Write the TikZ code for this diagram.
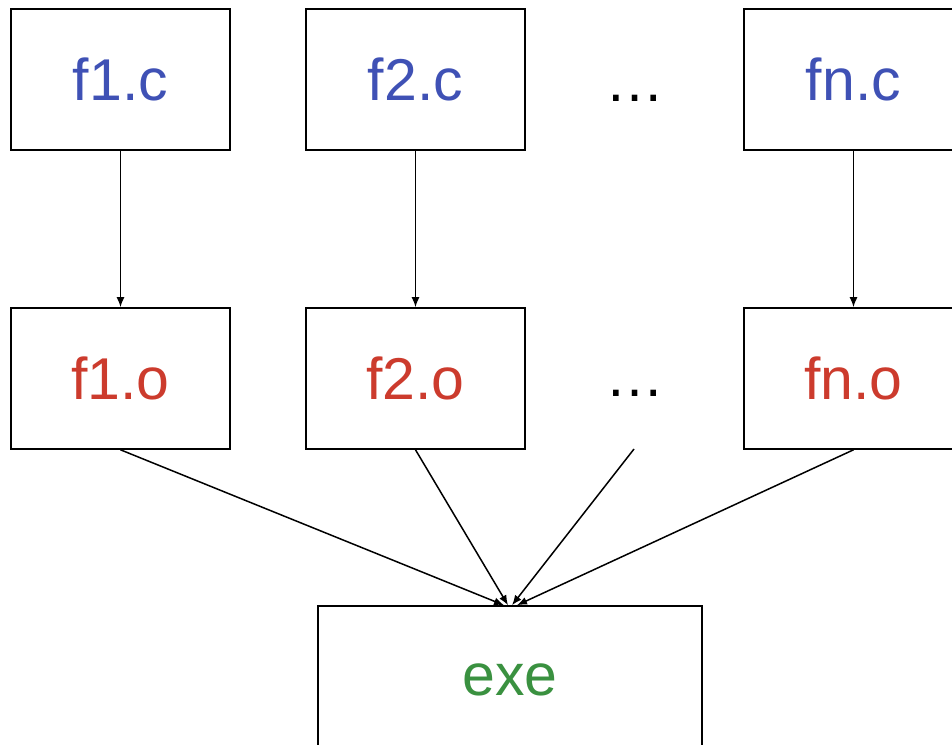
\documentclass[tikz,border=0pt]{standalone}
\usepackage{fontspec}
\setmainfont{Liberation Sans}
\usetikzlibrary{arrows.meta,calc}
\definecolor{srcblue}{RGB}{63,81,181}
\definecolor{objred}{RGB}{204,59,45}
\definecolor{exegreen}{RGB}{58,145,64}
\tikzset{
  bigtext/.style={font=\fontsize{59}{70}\selectfont},
  file/.style={draw, line width=1.6pt, minimum width=219pt, minimum height=141pt,
               inner sep=0pt, bigtext},
  csrc/.style={file, text=srcblue},
  obj/.style={file, text=objred},
  link/.style={line width=1.5pt, -{Latex[length=10pt,width=8pt]}},
  dots/.style={bigtext, text=black}
}
\begin{document}
\begin{tikzpicture}[x=1pt,y=-1pt]
  \useasboundingbox (0,0) rectangle (952,744);
  \begin{scope}
    \clip (0,0) rectangle (952,744);
    % source files
    \node[csrc] (c1) at (120.5,79.5) {f1.c};
    \node[csrc] (c2) at (415.5,79.5) {f2.c};
    \node[csrc] (cn) at (853.5,79.5) {fn.c};
    \node[dots] (dc) at (635,98) {…};
    % object files
    \node[obj] (o1) at (120.5,378.5) {f1.o};
    \node[obj] (o2) at (415.5,378.5) {f2.o};
    \node[obj] (on) at (853.5,378.5) {fn.o};
    \node[dots] (do) at (635,393) {…};
    \coordinate (dbot) at (634,449);
    % linked executable
    \node[file, minimum width=384pt, minimum height=160pt] (exe) at (510,686) {};
    \node[text=exegreen, bigtext] (exelabel) at (510,680) {exe};
    % compile step
    \draw[link] (c1.south) -- (o1.north);
    \draw[link] (c2.south) -- (o2.north);
    \draw[link] (cn.south) -- (on.north);
    % link step
    \draw[link] (o1.south) -- ($(exe.north)+(-6,0)$);
    \draw[link] (o2.south) -- ($(exe.north)+(-2,0)$);
    \draw[link] (dbot) -- ($(exe.north)+(2,0)$);
    \draw[link] (on.south) -- ($(exe.north)+(7,0)$);
  \end{scope}
\end{tikzpicture}
\end{document}
